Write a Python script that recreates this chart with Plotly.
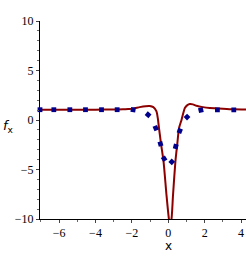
import numpy as np
import plotly.graph_objects as go

# red solid curve
red_x = [-7.05, -5.0, -4.0, -3.0, -2.5, -2.2, -1.93, -1.57, -1.25, -1.02, -0.82, -0.65,
         -0.57, -0.51, -0.4, -0.26, -0.1, 0.03, 0.1, 0.18, 0.26, 0.39, 0.5, 0.59, 0.73,
         0.91, 1.05, 1.18, 1.35, 1.55, 1.9, 2.28, 2.55, 3.0, 3.6, 4.3]
red_y = [1.03, 1.03, 1.04, 1.06, 1.08, 1.11, 1.15, 1.3, 1.4, 1.42, 1.3, 0.87,
         0.1, -0.82, -2.4, -4.2, -7.57, -9.93, -10.6, -9.93, -7.57, -4.2, -2.3, -0.82, 0.03,
         1.21, 1.5, 1.61, 1.58, 1.44, 1.3, 1.21, 1.18, 1.14, 1.08, 1.05]

# blue dotted curve (marker positions)
blue_x = [-7.05, -6.29, -5.41, -4.55, -3.67, -2.81, -1.93, -1.11, -0.69, -0.43, -0.23,
          0.19, 0.41, 0.63, 1.03, 1.79, 2.70, 3.60]
blue_y = [1.04, 1.04, 1.04, 1.04, 1.04, 1.04, 1.04, 0.53, -0.82, -2.41, -3.92,
          -4.23, -2.68, -1.09, 0.30, 1.0, 1.02, 1.03]

x_ticks = [-6, -4, -2, 0, 2, 4]
y_ticks = [-10, -5, 0, 5, 10]

W, H = 246, 263
L, R, T, B = 40, 0, 21, 44
xr = [-7.05, 4.27]
yr = [-10, 10]

# marker angles along the curve direction (in pixel space)
pw, ph = W - L - R, H - T - B
bx = np.array(blue_x); by = np.array(blue_y)
sx = pw / (xr[1] - xr[0]); sy = ph / (yr[1] - yr[0])
dx = np.gradient(bx) * sx
dy = np.gradient(by) * sy
ang = np.degrees(np.arctan2(-dy, dx))

fig = go.Figure()
fig.add_trace(go.Scatter(x=red_x, y=red_y, mode="lines",
                         line=dict(color="#8c0000", width=2, shape="spline", smoothing=0.6),
                         hoverinfo="skip"))
fig.add_trace(go.Scatter(x=blue_x, y=blue_y, mode="markers",
                         marker=dict(symbol="square", size=4.8, color="#00008b",
                                     angle=ang.tolist(), line=dict(width=0)),
                         cliponaxis=False, hoverinfo="skip"))

tickfont = dict(family="Liberation Serif", size=12, color="black")
fig.update_layout(
    width=W, height=H, margin=dict(l=L, r=R, t=T, b=B, autoexpand=False),
    paper_bgcolor="white", plot_bgcolor="white", showlegend=False,
    xaxis=dict(range=xr, tickvals=x_ticks, showgrid=False, zeroline=False, automargin=False,
               showline=True, linecolor="black", linewidth=1,
               ticks="outside", ticklen=3, tickcolor="#444", tickfont=tickfont,
               minor=dict(dtick=1, tick0=0, ticks="outside", ticklen=2, tickcolor="#666", showgrid=False)),
    yaxis=dict(range=yr, tickvals=y_ticks, showgrid=False, zeroline=False, automargin=False,
               showline=True, linecolor="black", linewidth=1,
               ticks="outside", ticklen=3, tickcolor="#444", tickfont=tickfont,
               minor=dict(dtick=1, tick0=0, ticks="outside", ticklen=2, tickcolor="#666", showgrid=False)),
    annotations=[
        dict(text="x", xref="x", x=0, yref="paper", y=0, yshift=-27, showarrow=False,
             xanchor="center", yanchor="middle",
             font=dict(family="DejaVu Sans", size=12, color="black")),
        dict(text="<i>f</i><sub>x</sub>", xref="paper", x=0, xshift=-32, yref="y", y=-0.7,
             showarrow=False, xanchor="center", yanchor="middle",
             font=dict(family="DejaVu Sans", size=13, color="black")),
    ],
)
fig.write_html("out.html", config={"displayModeBar": False},
               post_script="document.body.style.margin='0';")
